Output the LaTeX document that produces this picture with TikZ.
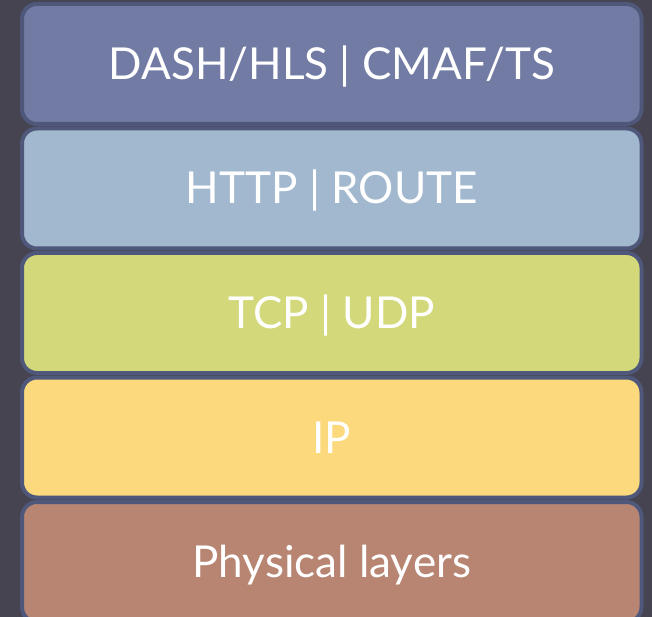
\documentclass[tikz,border=0pt]{standalone}
\usepackage{fontspec}
\setmainfont{Lato}
\usetikzlibrary{positioning}

\definecolor{bgdark}{HTML}{454450}
\definecolor{layerborder}{HTML}{4F587A}
\definecolor{appcol}{HTML}{727BA3}
\definecolor{httpcol}{HTML}{A2B8CE}
\definecolor{transcol}{HTML}{D3D97A}
\definecolor{ipcol}{HTML}{FBD97C}
\definecolor{physcol}{HTML}{B78572}

\begin{document}
\begin{tikzpicture}[x=1pt, y=-1pt, node distance=124.5pt]

  \tikzstyle{layer}=[draw=layerborder, line width=4pt, rounded corners=15pt,
    minimum width=619.5pt, minimum height=120pt, inner sep=0pt,
    text height=31pt, text depth=0pt,
    text=white, font=\fontsize{44}{48}\selectfont]

  % background
  \fill[bgdark] (0,0) rectangle (652,617);
  \useasboundingbox (0,0) rectangle (652,617);

  \node[layer, fill=appcol] (app) at (331.75,64) {DASH/HLS | CMAF/TS};
  \node[layer, fill=httpcol] (http) [below of=app] {HTTP | ROUTE};
  \node[layer, fill=transcol] (trans) [below of=http] {TCP | UDP};
  \node[layer, fill=ipcol] (ip) [below of=trans] {IP};
  \node[layer, fill=physcol] (phys) [below of=ip] {Physical layers};

\end{tikzpicture}
\end{document}
